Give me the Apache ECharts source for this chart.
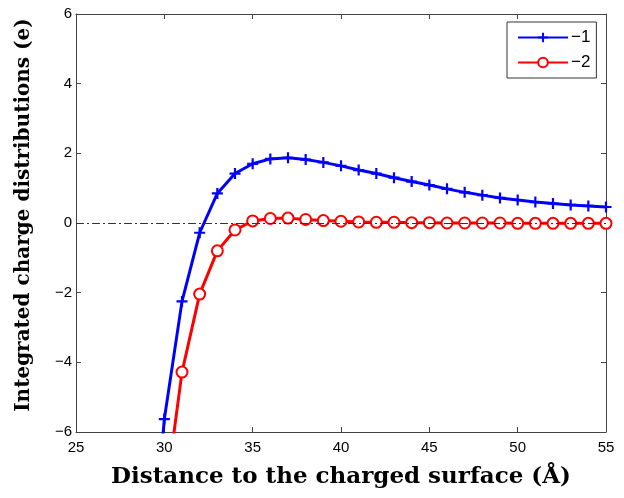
<!DOCTYPE html>
<html>
<head>
<meta charset="utf-8">
<script src="https://cdn.jsdelivr.net/npm/echarts@6/dist/echarts.min.js"></script>
<style>html,body{margin:0;padding:0;background:#fff}#c{width:624px;height:498px}</style>
</head>
<body>
<div id="c"></div>
<script>
// Data
var xValues = [29, 30, 31, 32, 33, 34, 35, 36, 37, 38, 39, 40, 41, 42, 43, 44, 45, 46, 47, 48, 49, 50, 51, 52, 53, 54, 55];
var series1 = [-11.5, -5.63, -2.25, -0.28, 0.85, 1.42, 1.70, 1.84, 1.87, 1.82, 1.74, 1.64, 1.52, 1.42, 1.30, 1.19, 1.09, 0.98, 0.88, 0.80, 0.72, 0.66, 0.60, 0.56, 0.52, 0.49, 0.46];
var series2 = [null, -8.1, -4.28, -2.04, -0.80, -0.20, 0.06, 0.13, 0.14, 0.10, 0.07, 0.05, 0.03, 0.02, 0.02, 0.01, 0.01, 0.0, 0.0, 0.0, 0.0, -0.01, -0.01, -0.01, -0.01, -0.01, -0.01];
var seriesNames = ['\u22121', '\u22122'];
var xTicks = {min: 25, max: 55, interval: 5};
var yTicks = {min: -6, max: 6, interval: 2};
var xLabel = 'Distance to the charged surface (\u00C5)';
var yLabel = 'Integrated charge distributions (e)';

function pairs(xs, ys) {
  var out = [];
  for (var i = 0; i < xs.length; i++) { if (ys[i] !== null) out.push([xs[i], ys[i]]); }
  return out;
}

var plusPath = 'path://M4,0 L6,0 L6,4 L10,4 L10,6 L6,6 L6,10 L4,10 L4,6 L0,6 L0,4 L4,4 Z';
var axisColor = '#444';
var tickFont = {fontFamily: 'Liberation Sans, Arial, sans-serif', fontSize: 15, color: '#000'};

var chart = echarts.init(document.getElementById('c'), null, {renderer: 'canvas'});
chart.setOption({
  animation: false,
  backgroundColor: '#fff',
  grid: {left: 76, right: 18, top: 14, bottom: 66, containLabel: false},
  legend: {
    orient: 'vertical',
    left: 507, top: 22,
    width: 91,
    backgroundColor: '#fff',
    borderColor: '#333', borderWidth: 1, borderRadius: 0,
    padding: [7, 6, 7, 10],
    itemGap: 8,
    itemWidth: 50, itemHeight: 12,
    textStyle: {fontFamily: 'Liberation Sans, Arial, sans-serif', fontSize: 17, color: '#000', padding: [0,0,0,-2]},
    data: seriesNames
  },
  xAxis: [{
    type: 'value', min: xTicks.min, max: xTicks.max, interval: xTicks.interval,
    position: 'bottom',
    axisLine: {show: true, onZero: false, lineStyle: {color: axisColor, width: 1}},
    axisTick: {show: true, inside: true, length: 5, lineStyle: {color: axisColor}},
    axisLabel: Object.assign({margin: 8}, tickFont),
    splitLine: {show: false},
    name: xLabel, nameLocation: 'middle', nameGap: 34,
    nameTextStyle: {fontFamily: 'DejaVu Serif, serif', fontWeight: 'bold', fontSize: 23, color: '#000'}
  }, {
    type: 'value', min: xTicks.min, max: xTicks.max, interval: xTicks.interval,
    position: 'top',
    axisLine: {show: true, onZero: false, lineStyle: {color: axisColor, width: 1}},
    axisTick: {show: true, inside: true, length: 5, lineStyle: {color: axisColor}},
    axisLabel: {show: false}, splitLine: {show: false}
  }],
  yAxis: [{
    type: 'value', min: yTicks.min, max: yTicks.max, interval: yTicks.interval,
    position: 'left',
    axisLine: {show: true, onZero: false, lineStyle: {color: axisColor, width: 1}},
    axisTick: {show: true, inside: true, length: 5, lineStyle: {color: axisColor}},
    axisLabel: Object.assign({margin: 4, formatter: function(v){return String(v).replace('-', '\u2212');}}, tickFont),
    splitLine: {show: false},
    name: yLabel, nameLocation: 'middle', nameGap: 42,
    nameTextStyle: {fontFamily: 'DejaVu Serif, serif', fontWeight: 'bold', fontSize: 20, color: '#000', padding: [0, 0, 0, 16]}
  }, {
    type: 'value', min: yTicks.min, max: yTicks.max, interval: yTicks.interval,
    position: 'right',
    axisLine: {show: true, onZero: false, lineStyle: {color: axisColor, width: 1}},
    axisTick: {show: true, inside: true, length: 5, lineStyle: {color: axisColor}},
    axisLabel: {show: false}, splitLine: {show: false}
  }],
  series: [{
    name: seriesNames[0], type: 'line', xAxisIndex: 0, yAxisIndex: 0,
    data: pairs(xValues, series1), clip: true,
    symbol: plusPath, symbolSize: 11, showAllSymbol: true,
    itemStyle: {color: '#0000ff'},
    lineStyle: {color: '#0000ff', width: 3},
    markLine: {
      silent: true, symbol: ['none', 'none'], label: {show: false},
      lineStyle: {color: '#333', width: 1, type: [8, 3, 2, 3]},
      data: [[{coord: [xTicks.min, 0]}, {coord: [xTicks.max, 0]}]]
    },
    z: 3
  }, {
    name: seriesNames[1], type: 'line', xAxisIndex: 0, yAxisIndex: 0,
    data: pairs(xValues, series2), clip: true,
    symbol: 'emptyCircle', symbolSize: 11, showAllSymbol: true,
    itemStyle: {color: '#ff0000', borderColor: '#ff0000', borderWidth: 2.2},
    lineStyle: {color: '#ff0000', width: 3},
    z: 4
  }]
});
</script>
</body>
</html>
